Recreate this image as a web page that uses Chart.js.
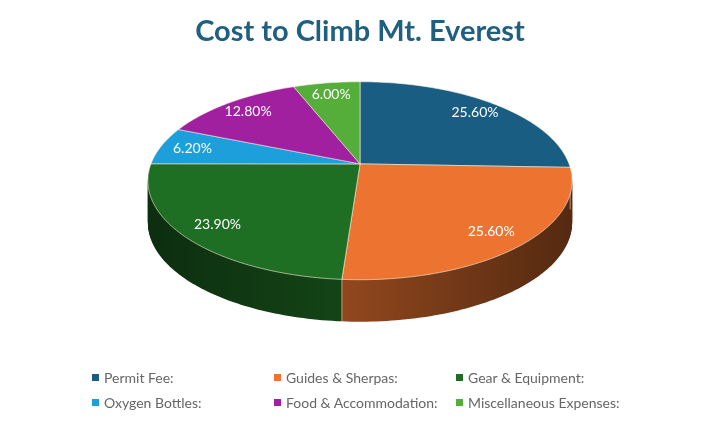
<!DOCTYPE html>
<html>
<head>
<meta charset="utf-8">
<script src="https://cdn.jsdelivr.net/npm/chart.js@4.4.1/dist/chart.umd.min.js"></script>
<style>
  html, body { margin: 0; padding: 0; background: #fff; }
  #wrap { position: relative; width: 720px; height: 422px; }
  #legend {
    position: absolute; left: 92px; top: 369px;
    display: grid; grid-template-columns: 182px 182px 200px; row-gap: 8px;
    font-family: Lato, "Open Sans", sans-serif; font-size: 14px; color: #666666;
  }
  #legend span.box { display: inline-block; width: 7px; height: 7px; margin-right: 5px; vertical-align: 2px; }
</style>
</head>
<body>
<div id="wrap">
  <canvas id="pie" width="720" height="422"></canvas>
  <div id="legend"></div>
</div>
<script>
const categories = ["Permit Fee:", "Guides & Sherpas:", "Gear & Equipment:", "Oxygen Bottles:", "Food & Accommodation:", "Miscellaneous Expenses:"];
const shares = [25.6, 25.6, 23.9, 6.2, 12.8, 6.0];
const colors = ["#1a5d83", "#ec7430", "#1e6e23", "#1d9fdc", "#a020a0", "#55ad3a"];

// re-projects Chart.js's round pie as a disc seen in perspective, with a side wall
const tilted3d = {
  id: "tilted3d",
  beforeDatasetsDraw(chart, args, opts) {
    const ctx = chart.ctx;
    const arcs = chart.getDatasetMeta(0).data;
    if (!arcs.length) return false;
    const cx = arcs[0].x, cy = arcs[0].y, r = arcs[0].outerRadius;
    const { kx, ky, persp, depth } = opts;

    // disc point (radius fraction f, angle t) -> screen
    const proj = (f, t, dy) => {
      const u = f * Math.cos(t), v = f * Math.sin(t);
      const w = 1 + persp * v;
      return [cx + r * kx * u / w, cy + r * ky * v / w + dy];
    };

    const sector = (a0, a1, dy) => {
      ctx.beginPath();
      let p = proj(0, 0, dy);
      ctx.moveTo(p[0], p[1]);
      const n = Math.max(4, Math.ceil((a1 - a0) / 0.02));
      for (let k = 0; k <= n; k++) {
        p = proj(1, a0 + (a1 - a0) * k / n, dy);
        ctx.lineTo(p[0], p[1]);
      }
      ctx.closePath();
    };

    const shade = (hex, f) => {
      const n = parseInt(hex.slice(1), 16);
      const c = [(n >> 16) & 255, (n >> 8) & 255, n & 255].map(v => Math.round(v * f));
      return `rgb(${c.join(",")})`;
    };

    // side wall
    const sideFill = arcs.map((a, i) => {
      const g = ctx.createLinearGradient(cx - r * kx, 0, cx + r * kx, 0);
      g.addColorStop(0, shade(colors[i], 0.42));
      g.addColorStop(0.45, shade(colors[i], 0.62));
      g.addColorStop(1, shade(colors[i], 0.36));
      return g;
    });
    for (let d = depth; d > 0; d--) {
      arcs.forEach((a, i) => {
        sector(a.startAngle, a.endAngle, d);
        ctx.fillStyle = sideFill[i];
        ctx.fill();
      });
    }
    // seams on the front of the wall
    ctx.strokeStyle = "rgba(255,235,215,0.55)";
    ctx.lineWidth = 1;
    arcs.forEach(a => {
      if (Math.sin(a.startAngle) > 0.02) {
        const p = proj(1, a.startAngle, 0);
        ctx.beginPath();
        ctx.moveTo(p[0], p[1]);
        ctx.lineTo(p[0], p[1] + depth);
        ctx.stroke();
      }
    });

    // top face
    arcs.forEach((a, i) => {
      sector(a.startAngle, a.endAngle, 0);
      ctx.fillStyle = colors[i];
      ctx.fill();
      ctx.strokeStyle = "rgba(255,240,225,0.6)";
      ctx.lineWidth = 1;
      ctx.stroke();
    });

    // value labels
    ctx.fillStyle = "#ffffff";
    ctx.font = "14px Lato, 'Open Sans', sans-serif";
    ctx.textAlign = "center";
    ctx.textBaseline = "middle";
    arcs.forEach((a, i) => {
      const p = proj(opts.labelPos, (a.startAngle + a.endAngle) / 2, 0);
      ctx.fillText(shares[i].toFixed(2) + "%", p[0], p[1]);
    });
    return false;
  }
};

new Chart(document.getElementById("pie"), {
  type: "pie",
  data: {
    labels: categories,
    datasets: [{
      data: shares,
      backgroundColor: colors,
      borderWidth: 0
    }]
  },
  options: {
    responsive: false,
    animation: false,
    layout: { padding: { top: 0, bottom: 168, left: 0, right: 0 } },
    events: [],
    plugins: {
      legend: { display: false },
      tooltip: { enabled: false },
      title: {
        display: true,
        text: "Cost to Climb Mt. Everest",
        color: "#1f5f80",
        font: { family: "Lato, 'Open Sans', sans-serif", size: 29, weight: "bold" },
        padding: { top: 14, bottom: 25 }
      },
      tilted3d: { kx: 2.32, ky: 1.067, persp: -0.17, depth: 42, labelPos: 0.84 }
    }
  },
  plugins: [tilted3d]
});

const legend = document.getElementById("legend");
categories.forEach((c, i) => {
  const item = document.createElement("div");
  item.innerHTML = `<span class="box" style="background:${colors[i]}"></span>${c}`;
  legend.appendChild(item);
});
</script>
</body>
</html>
